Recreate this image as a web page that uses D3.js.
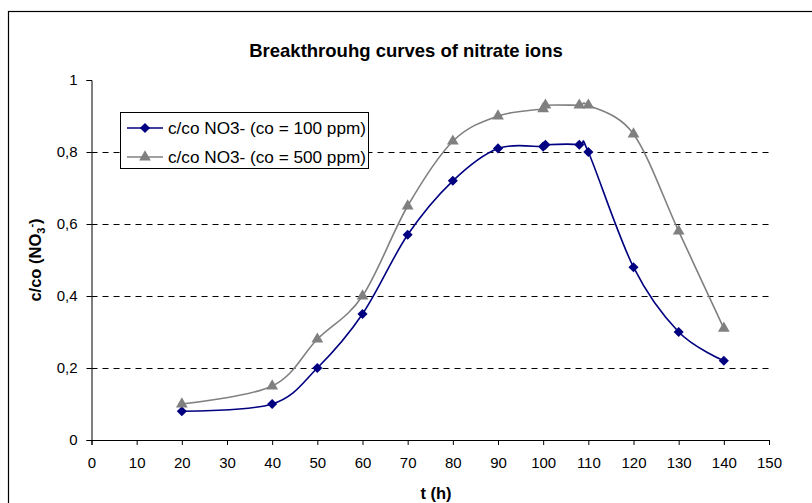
<!DOCTYPE html>
<html><head><meta charset="utf-8">
<script src="https://cdn.jsdelivr.net/npm/d3@7"></script>
<style>body{margin:0;background:#fff}svg{display:block;font-family:"Liberation Sans",Arial,sans-serif}</style>
</head><body><svg id="c" width="812" height="503"></svg>
<script>
const tHours = [20, 40, 50, 60, 70, 80, 90, 100, 100.5, 108, 110, 120, 130, 140];
const series100 = [0.08, 0.10, 0.20, 0.35, 0.57, 0.72, 0.81, 0.815, 0.82, 0.82, 0.80, 0.48, 0.30, 0.22];
const series500 = [0.10, 0.15, 0.28, 0.40, 0.65, 0.83, 0.90, 0.92, 0.93, 0.93, 0.93, 0.85, 0.58, 0.31];
const xTicks = [0,10,20,30,40,50,60,70,80,90,100,110,120,130,140,150];
const yTicks = [0,0.2,0.4,0.6,0.8,1];
const labels = ["c/co NO3- (co = 100 ppm)", "c/co NO3- (co = 500 ppm)"];

const svg = d3.select("#c");
const x = d3.scaleLinear().domain([0,150]).range([91.5,769]);
const y = d3.scaleLinear().domain([0,1]).range([440,80]);

svg.append("rect").attr("x",8.5).attr("y",11.5).attr("width",820).attr("height",520)
  .attr("fill","#fff").attr("stroke","#000").attr("stroke-width",1.2);

// gridlines
svg.append("g").selectAll("line").data(yTicks.filter(d=>d>0 && d<1)).join("line")
  .attr("x1",x(0)).attr("x2",x(150)).attr("y1",d=>Math.round(y(d))+0.5).attr("y2",d=>Math.round(y(d))+0.5)
  .attr("stroke","#000").attr("stroke-dasharray","6,5").attr("stroke-width",1);

const fmt = d => d===0?"0":(d===1?"1":d3.format(".1f")(d).replace(".",","));
const yAxis = svg.append("g").attr("transform",`translate(${x(0)},0)`)
  .call(d3.axisLeft(y).tickValues(yTicks).tickFormat(fmt).tickSize(5).tickPadding(9));
const xAxis = svg.append("g").attr("transform",`translate(0,${y(0)})`)
  .call(d3.axisBottom(x).tickValues(xTicks).tickFormat(d3.format("d")).tickSize(5).tickPadding(12));
[xAxis,yAxis].forEach(a=>{
  a.selectAll("path,line").attr("stroke","#000");
  a.selectAll("text").attr("font-size",15).attr("fill","#000").attr("font-family","Liberation Sans, Arial, sans-serif");
});

const line = d3.line().x((d,i)=>x(tHours[i])).y(d=>y(d)).curve(d3.curveCardinal.tension(0));
const cols = ["#000080","#808080"];
[series100,series500].forEach((s,k)=>{
  svg.append("path").attr("d",line(s)).attr("fill","none").attr("stroke",cols[k]).attr("stroke-width",1.6);
});
const diamond = d3.symbol().type(d3.symbolDiamond2).size(65);
const tri = d3.symbol().type(d3.symbolTriangle).size(60);
svg.append("g").selectAll("path").data(series100).join("path")
  .attr("d",diamond).attr("transform",(d,i)=>`translate(${x(tHours[i])},${y(d)})`).attr("fill",cols[0]);
svg.append("g").selectAll("path").data(series500).join("path")
  .attr("d",tri).attr("transform",(d,i)=>`translate(${x(tHours[i])},${y(d)})`).attr("fill",cols[1]);

// title
svg.append("text").attr("x",406).attr("y",57).attr("text-anchor","middle")
  .attr("font-size",18.5).attr("font-weight","bold").text("Breakthrouhg curves of nitrate ions");
svg.append("text").attr("x",436).attr("y",499).attr("text-anchor","middle")
  .attr("font-size",16.5).attr("font-weight","bold").text("t (h)");
const yt = svg.append("text").attr("transform","translate(41,260) rotate(-90)").attr("text-anchor","middle")
  .attr("font-size",16.5).attr("font-weight","bold");
yt.append("tspan").text("c/co (NO");
yt.append("tspan").attr("font-size",11).attr("dy",4).text("3");
yt.append("tspan").attr("font-size",11).attr("dy",-10).text("-");
yt.append("tspan").attr("dy",6).text(")");

// legend
const lg = svg.append("g");
lg.append("rect").attr("x",120.5).attr("y",112.5).attr("width",248).attr("height",56)
  .attr("fill","#fff").attr("stroke","#000").attr("stroke-width",1);
labels.forEach((t,k)=>{
  const yy = 128 + k*29;
  lg.append("line").attr("x1",127).attr("x2",163).attr("y1",yy).attr("y2",yy).attr("stroke",cols[k]).attr("stroke-width",1.6);
  lg.append("path").attr("d",k===0?diamond:tri).attr("transform",`translate(145,${yy})`).attr("fill",cols[k]);
  lg.append("text").attr("x",168).attr("y",yy+6).attr("font-size",16.5).attr("textLength",198).attr("lengthAdjust","spacingAndGlyphs").text(t);
});
</script></body></html>
